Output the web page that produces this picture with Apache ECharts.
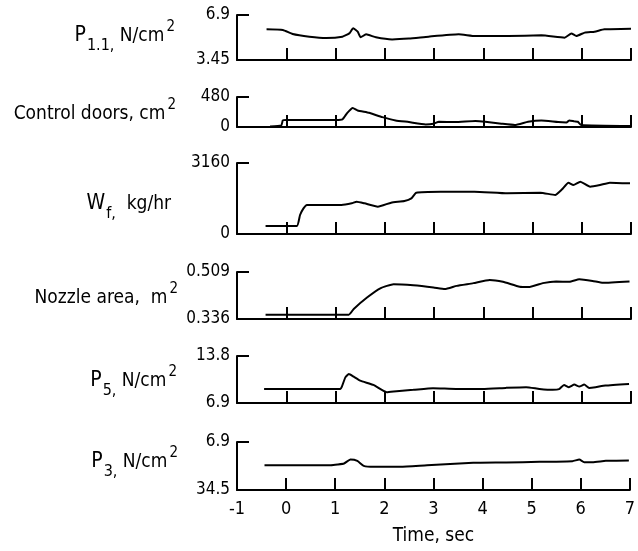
<!DOCTYPE html>
<html>
<head>
<meta charset="utf-8">
<script src="https://cdn.jsdelivr.net/npm/echarts@6/dist/echarts.min.js"></script>
<style>
  html, body { margin: 0; padding: 0; background: #fff; }
  #chart { width: 638px; height: 551px; }
</style>
</head>
<body>
<div id="chart"></div>
<script>
var timeTicks = ['-1', '0', '1', '2', '3', '4', '5', '6', '7'];

// P1.1, N/cm2
var p11Time = [-0.40, -0.07, 0.13, 0.47, 0.81, 1.14, 1.28, 1.36, 1.45, 1.51, 1.62, 1.82, 2.15, 2.49, 2.89, 3.50, 3.84, 4.51, 5.18, 5.65, 5.79, 5.89, 6.06, 6.26, 6.46, 7.0];
var p11Values = [5.80, 5.75, 5.44, 5.24, 5.14, 5.24, 5.49, 5.88, 5.62, 5.19, 5.42, 5.19, 5.03, 5.09, 5.24, 5.42, 5.29, 5.29, 5.34, 5.16, 5.49, 5.29, 5.55, 5.62, 5.80, 5.85];

// Control doors, cm2
var doorTime = [-0.33, -0.10, -0.07, 0.0, 1.01, 1.14, 1.24, 1.35, 1.45, 1.68, 1.95, 2.22, 2.49, 2.83, 2.99, 3.10, 3.43, 3.84, 4.04, 4.37, 4.64, 4.91, 5.18, 5.52, 5.69, 5.75, 5.85, 5.92, 5.99, 7.0];
var doorValues = [8, 26, 105, 111, 111, 121, 227, 306, 264, 227, 158, 105, 79, 42, 53, 84, 79, 95, 84, 53, 32, 84, 105, 79, 74, 105, 90, 84, 32, 16];

// Wf, kg/hr
var wfTime = [-0.42, 0.215, 0.28, 0.35, 0.42, 1.12, 1.33, 1.43, 1.59, 1.86, 2.13, 2.40, 2.54, 2.64, 3.14, 3.82, 4.49, 5.16, 5.46, 5.60, 5.73, 5.83, 5.97, 6.17, 6.37, 6.57, 6.98];
var wfValues = [356, 356, 846, 1142, 1291, 1291, 1365, 1439, 1365, 1216, 1395, 1469, 1587, 1840, 1884, 1884, 1810, 1840, 1736, 1988, 2285, 2181, 2329, 2107, 2181, 2285, 2255];

// Nozzle area, m2
var nozzleTime = [-0.42, 1.27, 1.37, 1.64, 1.91, 2.18, 2.58, 2.99, 3.22, 3.46, 3.80, 4.13, 4.40, 4.74, 4.94, 5.21, 5.48, 5.75, 5.95, 6.22, 6.43, 6.97];
var nozzleValues = [0.352, 0.352, 0.373, 0.415, 0.449, 0.464, 0.460, 0.452, 0.446, 0.458, 0.468, 0.480, 0.473, 0.455, 0.454, 0.468, 0.474, 0.473, 0.482, 0.476, 0.469, 0.474];

// P5, N/cm2
var p5Time = [-0.45, 1.10, 1.13, 1.20, 1.27, 1.37, 1.50, 1.77, 2.04, 2.24, 2.58, 2.98, 3.45, 3.99, 4.46, 4.87, 5.14, 5.41, 5.54, 5.64, 5.74, 5.85, 5.95, 6.05, 6.15, 6.28, 6.48, 6.96];
var p5Values = [8.97, 8.97, 9.31, 10.66, 11.15, 10.76, 10.18, 9.55, 8.49, 8.64, 8.83, 9.08, 8.97, 8.97, 9.12, 9.22, 8.97, 8.83, 8.93, 9.55, 9.22, 9.60, 9.31, 9.60, 9.12, 9.22, 9.46, 9.70];

// P3, N/cm2 (axis printed 6.9 at top, 34.5 at bottom)
var p3Time = [-0.44, 0.91, 1.05, 1.18, 1.31, 1.45, 1.58, 1.79, 2.33, 2.87, 3.81, 4.48, 5.16, 5.83, 5.97, 6.07, 6.24, 6.51, 6.98];
var p3Values = [20.22, 20.22, 19.84, 19.27, 16.99, 17.75, 20.60, 21.18, 21.18, 20.22, 18.89, 18.70, 18.32, 17.94, 16.99, 18.51, 18.51, 17.75, 17.56];

var panelNames = [
  '{big|P}{sub|1.1,}{txt| N/cm}{sup|2}',
  '{txt|Control doors, cm}{sup|2}',
  '{big|W}{sub|f,}{txt|  kg/hr}',
  '{txt|Nozzle area,  m}{sup|2}',
  '{big|P}{sub|5,}{txt| N/cm}{sup|2}',
  '{big|P}{sub|3,}{txt| N/cm}{sup|2}'
];
var yRanges = [[3.45, 6.9], [0, 480], [0, 3160], [0.336, 0.509], [6.9, 13.8], [6.9, 34.5]];
var times = [p11Time, doorTime, wfTime, nozzleTime, p5Time, p3Time];
var values = [p11Values, doorValues, wfValues, nozzleValues, p5Values, p3Values];

var tops = [15, 97, 163, 272, 356, 442];
var heights = [45, 30, 71, 47, 47, 48];
var nameX = [175, 176, 171, 178, 177, 178];
var nameY = [36, 114, 204, 298, 381, 462];

var font = '"DejaVu Sans Condensed", "Liberation Sans Narrow", sans-serif';
var rich = {
  big: { fontSize: 21, fontFamily: font, color: '#000', lineHeight: 28, verticalAlign: 'middle' },
  txt: { fontSize: 19, fontFamily: font, color: '#000', lineHeight: 28, verticalAlign: 'middle' },
  sub: { fontSize: 16, fontFamily: font, color: '#000', lineHeight: 28, verticalAlign: 'bottom', padding: [0, 0, -4, 1] },
  sup: { fontSize: 15, fontFamily: font, color: '#000', lineHeight: 28, verticalAlign: 'top', padding: [-2, 0, 0, 2] }
};

var grids = [], xAxes = [], yAxes = [], series = [], graphics = [];
for (var i = 0; i < 6; i++) {
  var last = i === 5;
  grids.push({ left: 237, right: 7, top: tops[i], height: heights[i] });
  xAxes.push({
    type: 'value', gridIndex: i, min: -1, max: 7, interval: 1,
    axisLine: { show: true, onZero: false, lineStyle: { color: '#000', width: 2 } },
    axisTick: { show: true, inside: true, length: 12, lineStyle: { color: '#000', width: 2 } },
    axisLabel: {
      show: last, margin: 10, fontSize: 18, fontFamily: font, color: '#000',
      formatter: function (v) { return timeTicks[Math.round(v) + 1]; }
    },
    splitLine: { show: false },
    name: last ? 'Time, sec' : '',
    nameLocation: 'middle', nameGap: 37,
    nameTextStyle: { fontSize: 19, fontFamily: font, color: '#000' }
  });
  yAxes.push({
    type: 'value', gridIndex: i, min: yRanges[i][0], max: yRanges[i][1],
    inverse: last,
    axisLine: { show: true, onZero: false, lineStyle: { color: '#000', width: 2 } },
    axisTick: { show: true, inside: true, length: 12, customValues: yRanges[i], lineStyle: { color: '#000', width: 2 } },
    axisLabel: {
      show: true, margin: 7, fontSize: 17, fontFamily: font, color: '#000', customValues: yRanges[i],
      formatter: function (v) { return String(v); }
    },
    splitLine: { show: false }
  });
  var pts = [];
  for (var k = 0; k < times[i].length; k++) pts.push([times[i][k], values[i][k]]);
  series.push({
    type: 'line', xAxisIndex: i, yAxisIndex: i, data: pts,
    showSymbol: false, smooth: 0.15, silent: true,
    lineStyle: { color: '#000', width: 2 }
  });
  graphics.push({
    type: 'text', x: nameX[i], y: nameY[i],
    style: { text: panelNames[i], rich: rich, align: 'right', verticalAlign: 'middle' }
  });
}

var chart = echarts.init(document.getElementById('chart'));
chart.setOption({
  animation: false,
  backgroundColor: '#fff',
  grid: grids,
  xAxis: xAxes,
  yAxis: yAxes,
  series: series,
  graphic: graphics
});
window.onresize = chart.resize;
</script>
</body>
</html>
